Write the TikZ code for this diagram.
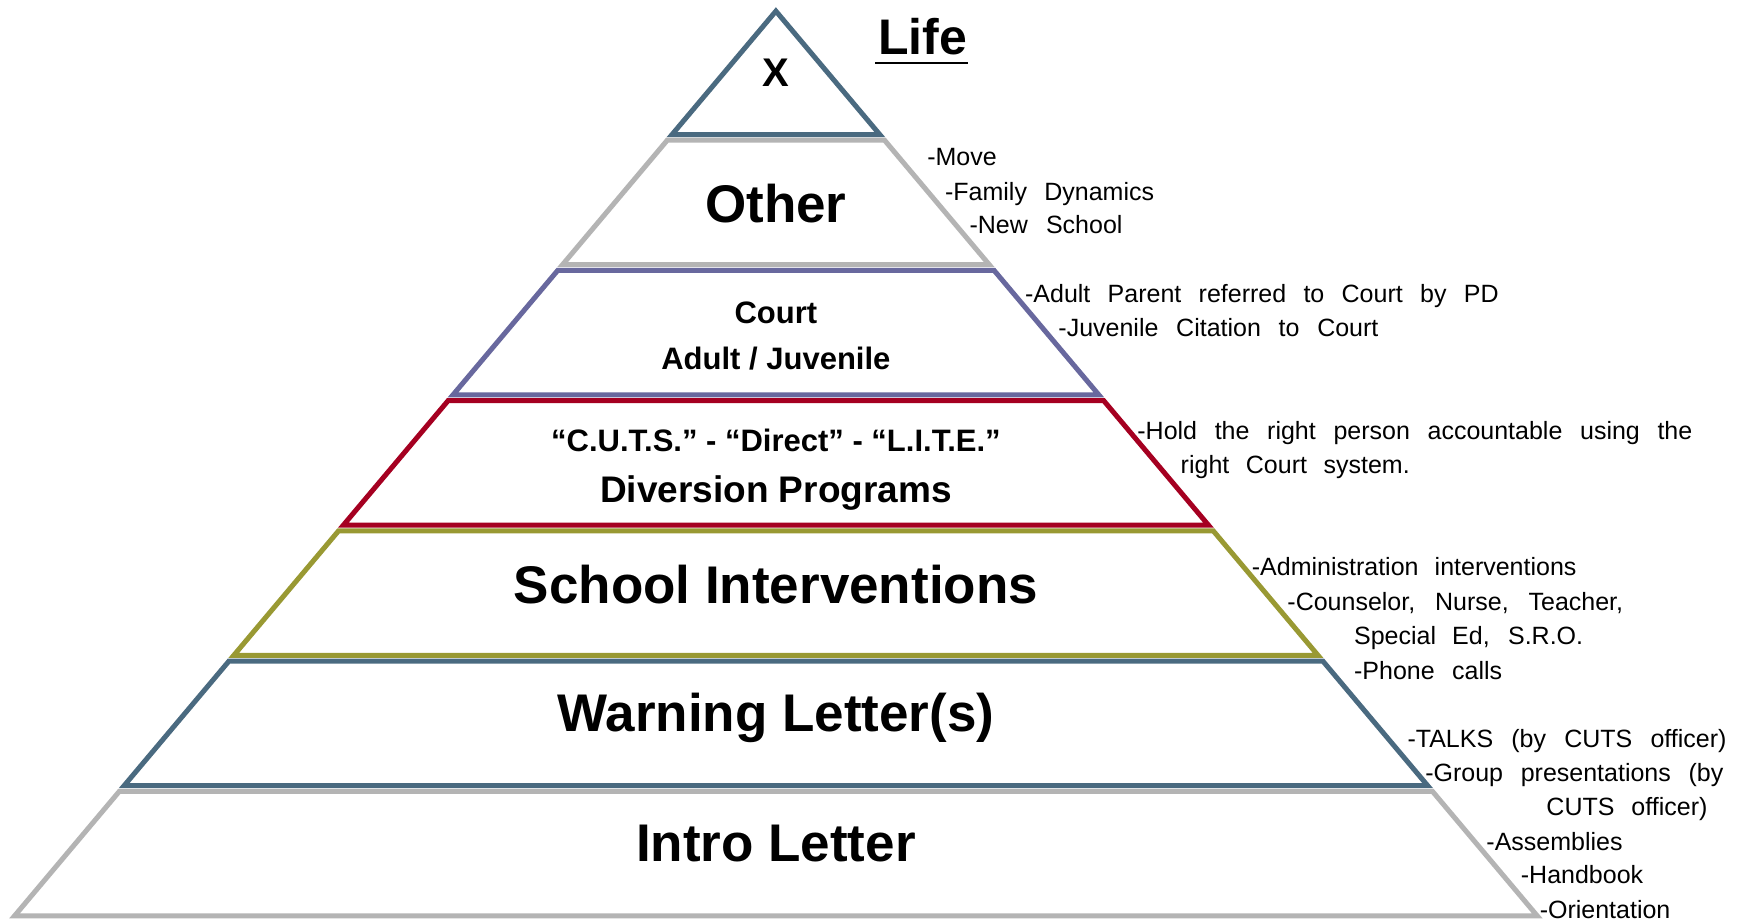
\documentclass[tikz,border=0pt]{standalone}
\usepackage{fontspec}
\setmainfont{Liberation Sans}

% stretch the word spaces of a side note to a given width
\newcommand{\spread}[2]{\makebox[#1][s]{#2}}

\definecolor{tipblue}{RGB}{74,106,128}
\definecolor{layergray}{RGB}{180,180,180}
\definecolor{courtpurple}{RGB}{104,104,158}
\definecolor{cutsred}{RGB}{165,0,33}
\definecolor{schoololive}{RGB}{153,153,51}

\tikzset{
  layer/.style={line width=5pt, fill=white, line join=miter},
  tierbig/.style={font=\fontsize{53}{60}\selectfont\bfseries, inner sep=0pt, anchor=base},
  tiermid/.style={font=\fontsize{37}{42}\selectfont\bfseries, inner sep=0pt, anchor=base},
  tiersmall/.style={font=\fontsize{31}{36}\selectfont\bfseries, inner sep=0pt, anchor=base},
  side/.style={font=\fontsize{25}{30}\selectfont, inner sep=0pt, anchor=base west}
}

\begin{document}
\begin{tikzpicture}[x=1.1116pt, y=-1.1116pt]
  \fill[white] (0,0) rectangle (1568,829);
  \useasboundingbox (0,0) rectangle (1568,829);

  % Top of the pyramid
  \draw[layer, draw=tipblue] (698,10) -- ({698+0.8415*111},121) -- ({698-0.8415*111},121) -- cycle;
  % The six lower layers
  \foreach \ytop/\col in {126/layergray, 243.2/courtpurple, 360.4/cutsred, 477.6/schoololive, 594.8/tipblue, 712/layergray}
  {
    \pgfmathsetmacro{\ybot}{\ytop+112}
    \draw[layer, draw=\col] ({698-0.8415*(\ytop-10)},\ytop) -- ({698+0.8415*(\ytop-10)},\ytop)
      -- ({698+0.8415*(\ybot-10)},\ybot) -- ({698-0.8415*(\ybot-10)},\ybot) -- cycle;
  }

  % Layer names
  \node[font=\fontsize{40}{44}\selectfont\bfseries, inner sep=0pt, anchor=base] (x) at (698,78) {X};
  \node[font=\fontsize{50}{56}\selectfont\bfseries, inner sep=0pt, anchor=base west] (life) at (790,49) {Life};
  \draw[line width=2.5pt] ([xshift=-3pt,yshift=-8.5pt]life.base west) -- ([xshift=1pt,yshift=-8.5pt]life.base east);
  \node[tierbig] (other) at (698,200) {Other};
  \node[tiersmall] (court) at (698,291) {Court};
  \node[tiersmall] (adultjuv) at (698,332) {Adult / Juvenile};
  \node[tiersmall] (cuts) at (698,406) {“C.U.T.S.” - “Direct” - “L.I.T.E.”};
  \node[tiermid] (diversion) at (698,452) {Diversion Programs};
  \node[tierbig] (school) at (698,543) {School Interventions};
  \node[tierbig] (warning) at (698,658) {Warning Letter(s)};
  \node[tierbig] (intro) at (698,775) {Intro Letter};

  % Notes beside the layers
  \node[side] (move) at (834,149) {-Move};
  \node[side] (family) at (850,180) {\spread{209pt}{-Family Dynamics}};
  \node[side] (newschool) at (872,210) {\spread{153pt}{-New School}};
  \node[side] (adultpd) at (922,272) {\spread{473.5pt}{-Adult Parent referred to Court by PD}};
  \node[side] (citation) at (952,303) {\spread{320pt}{-Juvenile Citation to Court}};
  \node[side] (hold) at (1023,395) {\spread{555pt}{-Hold the right person accountable using the}};
  \node[side] (system) at (1062,426) {\spread{229pt}{right Court system.}};
  \node[side] (admin) at (1126,518) {\spread{324.6pt}{-Administration interventions}};
  \node[side] (counselor) at (1158,549) {\spread{335.7pt}{-Counselor, Nurse, Teacher,}};
  \node[side] (special) at (1218,580) {\spread{229pt}{Special Ed, S.R.O.}};
  \node[side] (phone) at (1218,611) {\spread{148pt}{-Phone calls}};
  \node[side] (talks) at (1266,672) {\spread{319pt}{-TALKS (by CUTS officer)}};
  \node[side] (group) at (1282,703) {\spread{298pt}{-Group presentations (by}};
  \node[side] (officer) at (1391,734) {\spread{161pt}{CUTS officer)}};
  \node[side] (assemblies) at (1337,765) {-Assemblies};
  \node[side] (handbook) at (1368,795) {-Handbook};
  \node[side] (orientation) at (1385,826) {-Orientation};
\end{tikzpicture}
\end{document}
